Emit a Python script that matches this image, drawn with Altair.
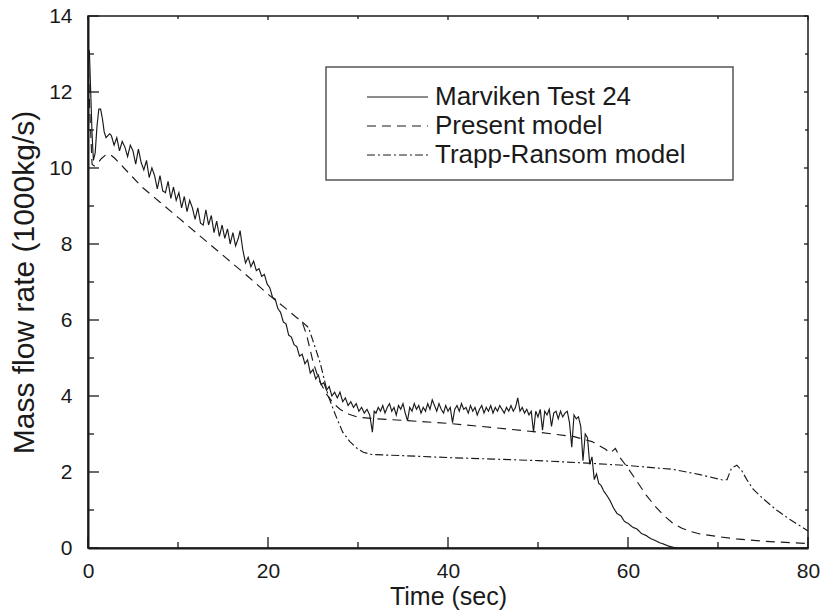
import altair as alt
import pandas as pd

series_names = ["Marviken Test 24", "Present model", "Trapp-Ransom model"]

marv_t = [0, 0.15, 0.3, 0.45, 0.6, 0.8, 1.0, 1.2, 1.4, 1.6, 1.8, 2.0, 2.2, 2.4,
          2.6, 2.9, 3.2, 3.5, 3.8, 4.1, 4.4, 4.7, 5.0, 5.3, 5.6, 5.9, 6.2, 6.5, 6.8,
          7.1, 7.4, 7.7, 8.0, 8.3, 8.6, 8.9, 9.2, 9.5, 9.8, 10.1, 10.4, 10.7, 11.0,
          11.3, 11.6, 11.9, 12.2, 12.5, 12.8, 13.1, 13.4, 13.7, 14.0, 14.3, 14.6,
          14.9, 15.2, 15.5, 15.8, 16.1, 16.4, 16.7, 16.9, 17.2, 17.5, 17.8, 18.1,
          18.4, 18.7, 19.0, 19.3, 19.6, 19.9, 20.2, 20.5, 20.8, 21.1, 21.4, 21.7,
          22.0, 22.3, 22.6, 22.9, 23.2, 23.5, 23.8, 24.1, 24.4,
          24.7, 25.0, 25.3, 25.6, 25.9, 26.2, 26.5, 26.8, 27.1, 27.4, 27.7, 28.0,
          28.3, 28.6, 28.9, 29.2, 29.5, 29.8, 30.1, 30.4, 30.7, 31.0, 31.3, 31.6, 31.8,
          32.0, 32.25, 32.5, 32.75, 33.0, 33.25, 33.5, 33.75, 34.0, 34.25, 34.5, 34.75,
          35.0, 35.25, 35.5, 35.75, 36.0, 36.25, 36.5, 36.75, 37.0, 37.25, 37.5, 37.75,
          38.0, 38.25, 38.5, 38.75, 39.0, 39.25, 39.5, 39.75, 40.0, 40.25, 40.5, 40.75,
          41.0, 41.25, 41.5, 41.75, 42.0, 42.25, 42.5, 42.75, 43.0, 43.25, 43.5, 43.75,
          44.0, 44.25, 44.5, 44.75, 45.0, 45.25, 45.5, 45.75, 46.0, 46.25, 46.5, 46.75,
          47.0, 47.25, 47.5, 47.75, 48.0, 48.25, 48.5, 48.75, 49.0, 49.25, 49.5, 49.75,
          50.0, 50.25, 50.5, 50.75, 51.0, 51.25, 51.5, 51.75, 52.0, 52.25, 52.5, 52.75,
          53.0, 53.25, 53.5, 53.75, 54.0, 54.25, 54.5, 54.75, 55.0, 55.25, 55.5, 55.75,
          56.0, 56.25, 56.5, 56.75, 57.0, 57.3, 57.6, 58.0, 58.4, 58.8, 59.2, 59.6,
          60.0, 60.5, 61.0, 61.5, 62.0, 62.5, 63.0, 63.5, 64.0, 64.5, 65.0, 65.5, 80.0]
marv_y = [12.9, 13.1, 12.0, 10.9, 10.2, 10.4, 11.1, 11.55, 11.55, 11.3, 10.95, 10.8, 10.85, 10.9,
          10.85, 10.6, 10.8, 10.45, 10.7, 10.55, 10.3, 10.6, 10.45, 10.1, 10.5, 10.15, 9.95, 10.2, 9.75,
          10.0, 9.8, 9.45, 9.8, 9.4, 9.35, 9.65, 9.2, 9.5, 9.15, 9.35, 8.95, 9.25, 8.85,
          9.15, 8.95, 8.65, 8.95, 8.55, 8.5, 8.9, 8.5, 8.75, 8.3, 8.6, 8.2,
          8.5, 8.15, 8.4, 8.0, 8.3, 7.95, 8.15, 8.35, 7.85, 7.5, 7.65, 7.4,
          7.55, 7.3, 7.35, 7.15, 7.2, 6.95, 6.85, 6.6, 6.55, 6.3, 6.2, 5.95,
          5.9, 5.6, 5.55, 5.35, 5.3, 5.05, 5.1, 4.85, 4.95,
          4.6, 4.7, 4.45, 4.55, 4.3, 4.35, 4.15, 4.25, 4.0, 4.1, 3.95, 4.1,
          3.85, 3.95, 3.75, 3.85, 3.7, 3.8, 3.6, 3.7, 3.55, 3.65, 3.5, 3.05, 3.6,
          3.55, 3.7, 3.6, 3.75, 3.55, 3.7, 3.8, 3.6, 3.7, 3.5, 3.75, 3.65,
          3.8, 3.55, 3.35, 3.7, 3.6, 3.8, 3.65, 3.75, 3.55, 3.7, 3.6, 3.8,
          3.65, 3.9, 3.75, 3.6, 3.8, 3.65, 3.55, 3.75, 3.6, 3.7, 3.3, 3.65,
          3.75, 3.6, 3.8, 3.65, 3.7, 3.55, 3.75, 3.6, 3.7, 3.5, 3.65, 3.75,
          3.55, 3.7, 3.6, 3.75, 3.55, 3.7, 3.6, 3.75, 3.65, 3.55, 3.7, 3.6,
          3.75, 3.6, 3.7, 3.95, 3.6, 3.7, 3.55, 3.65, 3.5, 3.6, 3.05, 3.6,
          3.45, 3.65, 3.1, 3.6, 3.5, 3.65, 3.2, 3.55, 3.6, 3.4, 3.6, 3.45,
          3.55, 3.6, 3.3, 2.65, 3.5, 3.4, 3.45, 3.2, 2.3, 3.0, 2.9, 2.2,
          2.4, 1.8, 1.95, 1.7, 1.65, 1.5, 1.4, 1.25, 1.05, 0.9, 0.85, 0.7,
          0.65, 0.55, 0.5, 0.38, 0.33, 0.25, 0.2, 0.14, 0.1, 0.05, 0.02, 0.0, 0.0]

pres_t = [0, 0.2, 0.45, 0.7, 1.0, 1.5, 2.0, 2.5, 3.0, 4.0, 5.0, 6.0, 8.0, 10.0, 12.0,
          14.0, 16.0, 18.0, 20.0, 22.0, 23.0, 23.8, 24.3, 25.0, 25.7, 26.5, 27.3, 28.0,
          29.0, 30.0, 32.0, 35.0, 40.0, 45.0, 50.0, 54.0, 56.0, 57.5, 58.0, 58.6, 59.2,
          60.0, 61.0, 62.0, 63.0, 64.0, 65.0, 66.0, 67.0, 68.0, 70.0, 72.0, 75.0, 78.0, 80.0]
pres_y = [13.0, 11.5, 10.1, 10.05, 10.1, 10.25, 10.35, 10.35, 10.25, 10.0, 9.75, 9.5, 9.1, 8.7, 8.3,
          7.9, 7.5, 7.1, 6.68, 6.3, 6.1, 5.95, 5.6, 4.9, 4.4, 4.05, 3.8, 3.65,
          3.52, 3.44, 3.4, 3.36, 3.28, 3.17, 3.05, 2.93, 2.8, 2.6, 2.5, 2.62, 2.35,
          2.1, 1.75, 1.4, 1.1, 0.85, 0.65, 0.52, 0.43, 0.37, 0.3, 0.24, 0.18, 0.14, 0.12]

# Trapp-Ransom model: drawn from where it separates from the Present model
trapp_t = [23.8, 24.5, 25.0, 25.8, 26.7, 27.5, 28.3,
           29.1, 30.0, 30.6, 31.5, 35.0, 40.0, 45.0, 50.0, 55.0, 60.0, 65.0, 68.0, 70.5,
           71.0, 71.5, 72.1, 72.6, 73.2, 73.9, 75.0, 76.5, 78.0, 80.0]
trapp_y = [5.95, 5.8, 5.45, 4.87, 4.0, 3.5, 3.05,
           2.8, 2.6, 2.52, 2.46, 2.43, 2.38, 2.34, 2.3, 2.24, 2.17, 2.07, 1.93, 1.79,
           1.8, 2.1, 2.18, 2.05, 1.8, 1.55, 1.3, 1.0, 0.75, 0.45]

x_major = [0, 20, 40, 60, 80]
x_minor = [10, 30, 50, 70]
y_major = [0, 2, 4, 6, 8, 10, 12, 14]
y_minor = [1, 3, 5, 7, 9, 11, 13]
dashes = [[1, 0], [9, 6], [8, 3, 2, 3]]

W, H = 720, 532
FONT = "Liberation Sans"
INK = "#1a1a1a"

frames = []
for name, ts, vs in zip(series_names, [marv_t, pres_t, trapp_t], [marv_y, pres_y, trapp_y]):
    n = min(len(ts), len(vs))
    frames.append(pd.DataFrame({"t": ts[:n], "v": vs[:n], "series": name, "i": range(n)}))
df = pd.concat(frames, ignore_index=True)

xs = alt.Scale(domain=[0, 80], nice=False, zero=False)
ys = alt.Scale(domain=[0, 14], nice=False, zero=False)

lines = alt.Chart(df).mark_line(strokeWidth=1.15, color=INK, clip=True).encode(
    x=alt.X("t:Q", scale=xs, axis=alt.Axis(values=x_major, title="Time (sec)",
                                           labelPadding=12, titlePadding=3,
                                           titleFontSize=25, labelFlush=False)),
    y=alt.Y("v:Q", scale=ys, axis=alt.Axis(values=y_major, title="Mass flow rate (1000kg/s)",
                                           labelPadding=16, titlePadding=9,
                                           titleFontSize=30, labelFlush=False)),
    strokeDash=alt.StrokeDash("series:N", scale=alt.Scale(domain=series_names, range=dashes), legend=None),
    detail="series:N",
    order="i:Q",
)


def xticks(vals, y0, y1):
    return alt.Chart(pd.DataFrame({"t": vals})).mark_rule(color=INK, strokeWidth=1.3).encode(
        x=alt.X("t:Q", scale=xs), y=alt.value(y0), y2=alt.value(y1))


def yticks(vals, x0, x1):
    return alt.Chart(pd.DataFrame({"v": vals})).mark_rule(color=INK, strokeWidth=1.3).encode(
        y=alt.Y("v:Q", scale=ys), x=alt.value(x0), x2=alt.value(x1))


ticks = [
    xticks(x_major, H, H - 11), xticks(x_minor, H, H - 6),
    xticks(x_major, 0, 4), xticks(x_minor, 0, 3),
    yticks(y_major, 0, 11), yticks(y_minor, 0, 6),
    yticks(y_major, W, W - 4), yticks(y_minor, W, W - 3),
]

one = pd.DataFrame({"a": [0]})
LX0, LX1, LY0, LY1 = 326 - 88, 733 - 88, 67 - 16, 180 - 16
row_y = [97 - 16, 126 - 16, 155 - 16]
legend_layers = [
    alt.Chart(one).mark_rect(fill="white", stroke="#555555", strokeWidth=1.5).encode(
        x=alt.value(LX0), x2=alt.value(LX1), y=alt.value(LY0), y2=alt.value(LY1))
]
for name, dash, ry in zip(series_names, dashes, row_y):
    legend_layers.append(
        alt.Chart(one).mark_rule(color=INK, strokeWidth=1.2, strokeDash=dash).encode(
            x=alt.value(367 - 88), x2=alt.value(428 - 88), y=alt.value(ry)))
    legend_layers.append(
        alt.Chart(one).mark_text(align="left", baseline="middle", font=FONT, fontSize=26, color=INK).encode(
            x=alt.value(435 - 88), y=alt.value(ry), text=alt.value(name)))

chart = alt.layer(lines, *ticks, *legend_layers).properties(
    width=W, height=H,
    autosize=alt.AutoSizeParams(type="none"),
    padding={"left": 88, "top": 16, "right": 14, "bottom": 65},
).configure_view(stroke=INK, strokeWidth=1.5).configure_axis(
    grid=False, ticks=False, tickSize=0, domainColor=INK, domainWidth=2,
    labelFont=FONT, labelFontSize=21, labelColor=INK,
    titleFont=FONT, titleColor=INK, titleFontWeight="normal",
)

chart.save("out.html", embed_options={"renderer": "svg", "actions": False})
